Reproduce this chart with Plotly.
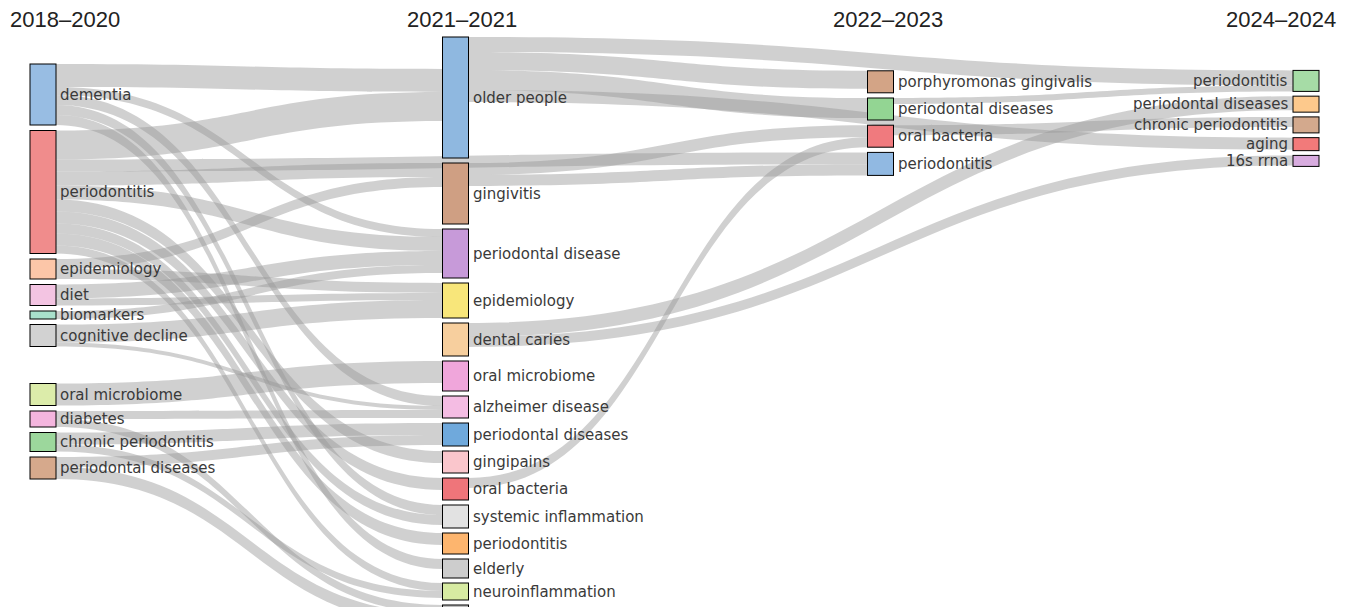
import plotly.graph_objects as go

W, H = 1350, 607

# ---------------- data ----------------
period_titles = ["2018–2020", "2021–2021", "2022–2023", "2024–2024"]

col1_labels = ["dementia", "periodontitis", "epidemiology", "diet", "biomarkers",
               "cognitive decline", "oral microbiome", "diabetes",
               "chronic periodontitis", "periodontal diseases"]
col1_sizes = [61, 123, 20, 21, 8, 22, 22, 16, 19, 22]

col2_labels = ["older people", "gingivitis", "periodontal disease", "epidemiology",
               "dental caries", "oral microbiome", "alzheimer disease",
               "periodontal diseases", "gingipains", "oral bacteria",
               "systemic inflammation", "periodontitis", "elderly",
               "neuroinflammation", ""]
col2_sizes = [121, 61, 49, 35, 33, 30, 22, 23, 22, 22, 23, 21, 19, 17, 20]

col3_labels = ["porphyromonas gingivalis", "periodontal diseases", "oral bacteria",
               "periodontitis"]
col3_sizes = [22, 22, 22, 23]

col4_labels = ["periodontitis", "periodontal diseases", "chronic periodontitis",
               "aging", "16s rrna"]
col4_sizes = [21, 16, 16, 13, 11]

# links: (column, label) -> (column, label), width
link_source = [
    (1, "dementia"), (1, "dementia"), (1, "dementia"), (1, "dementia"), (1, "dementia"),
    (1, "periodontitis"), (1, "periodontitis"), (1, "periodontitis"), (1, "periodontitis"),
    (1, "periodontitis"), (1, "periodontitis"), (1, "periodontitis"), (1, "periodontitis"),
    (1, "periodontitis"),
    (1, "epidemiology"), (1, "epidemiology"),
    (1, "diet"), (1, "diet"),
    (1, "biomarkers"),
    (1, "cognitive decline"), (1, "cognitive decline"),
    (1, "oral microbiome"),
    (1, "diabetes"), (1, "diabetes"),
    (1, "chronic periodontitis"), (1, "chronic periodontitis"),
    (1, "periodontal diseases"), (1, "periodontal diseases"),
    (2, "older people"), (2, "older people"), (2, "older people"), (2, "older people"),
    (2, "gingivitis"), (2, "gingivitis"),
    (2, "dental caries"), (2, "dental caries"),
    (2, "oral bacteria"),
    (3, "periodontal diseases"),
    (3, "oral bacteria"),
]
link_target = [
    (2, "older people"), (2, "periodontal disease"), (2, "alzheimer disease"),
    (2, "systemic inflammation"), (2, "elderly"),
    (2, "older people"), (3, "periodontitis"), (2, "gingivitis"), (2, "periodontal disease"),
    (2, "gingipains"), (2, "oral bacteria"), (2, "systemic inflammation"),
    (2, "periodontitis"), (2, "neuroinflammation"),
    (2, "gingivitis"), (2, "epidemiology"),
    (2, "periodontal disease"), (2, "epidemiology"),
    (2, "periodontal disease"),
    (2, "epidemiology"), (2, "alzheimer disease"),
    (2, "oral microbiome"),
    (2, "alzheimer disease"), (2, ""),
    (2, "periodontal diseases"), (2, "neuroinflammation"),
    (2, "periodontal diseases"), (2, ""),
    (4, "periodontitis"), (3, "porphyromonas gingivalis"), (3, "periodontal diseases"), (4, "aging"),
    (3, "oral bacteria"), (3, "periodontitis"),
    (4, "periodontal diseases"), (4, "16s rrna"),
    (3, "oral bacteria"),
    (4, "periodontitis"),
    (4, "chronic periodontitis"),
]
link_value = [
    23, 8, 10, 10, 10,
    29, 12, 14, 14, 12, 12, 10, 12, 8,
    10, 10,
    14, 7,
    8,
    18, 4,
    22,
    8, 8,
    12, 7,
    10, 12,
    15, 18, 20, 12,
    12, 11,
    14, 10,
    10,
    6,
    10,
]

# ---------------- styles / layout ----------------
col1_colors = ["#98bde3", "#f08c8c", "#fcc6a8", "#f3c4e2", "#a9e0cc", "#d2d2d2",
               "#dcecaa", "#f4b5de", "#9cd79c", "#d6a98c"]
col2_colors = ["#8fb8e0", "#cf9f83", "#c79ad9", "#f8e67a", "#f7cf9e", "#f0a6db",
               "#f4bce3", "#6fa9dc", "#fac6cc", "#ef757a", "#e2e2e2", "#fdb56e",
               "#cdcdcd", "#d7eba2", "#bdbdbd"]
col3_colors = ["#d3a486", "#93d593", "#f07a7e", "#91b9e2"]
col4_colors = ["#a6dca6", "#fdc98c", "#d3a98d", "#f27a7a", "#d8acdf"]

col_center_x = [43, 455.5, 880.5, 1306]
col_top = [64, 37, 70.8, 70.4]
col_gap = [5.5, 5.0, 5.2, 4.75]
extra_gap_before = {(1, "oral microbiome"): 31.5}
top_space = {(2, "older people"): 32}   # empty space above incoming flows

THICK = 26
LINK_COLOR = "rgba(150,150,150,0.45)"
CLEAR = "rgba(0,0,0,0)"
LABEL_FONT = dict(family="DejaVu Sans", size=15, color="#3a3a3a")

columns = [
    (col1_labels, col1_sizes, col1_colors),
    (col2_labels, col2_sizes, col2_colors),
    (col3_labels, col3_sizes, col3_colors),
    (col4_labels, col4_sizes, col4_colors),
]

ids, labels, colors, xs, ys, sizes, centers = [], [], [], [], [], [], []
for ci, (labs, szs, cols) in enumerate(columns):
    y = col_top[ci]
    for k, (lab, s, c) in enumerate(zip(labs, szs, cols)):
        key = (ci + 1, lab)
        if k > 0:
            y += col_gap[ci]
        y += extra_gap_before.get(key, 0)
        ids.append(key)
        labels.append(lab)
        colors.append(c)
        xs.append(col_center_x[ci] / W)
        ys.append((y + s / 2) / H)
        centers.append(y + s / 2)
        sizes.append(s)
        y += s

n_vis = len(ids)
index = {k: i for i, k in enumerate(ids)}
line_colors = ["#555555"] * n_vis
line_widths = [1] * n_vis

# helper (invisible) nodes placed far outside the drawing area
DST, DSB, DT = n_vis, n_vis + 1, n_vis + 2
colors += [CLEAR] * 3
line_colors += [CLEAR] * 3
line_widths += [0] * 3
xs += [0.02, 0.02, 0.98]
ys += [-3.0, 4.0, 4.0]
n_all = n_vis + 3

src, tgt, val, lcol = [], [], [], []
for s, t, v in zip(link_source, link_target, link_value):
    src.append(index[s]); tgt.append(index[t]); val.append(v); lcol.append(LINK_COLOR)

vin = [0] * n_vis
vout = [0] * n_vis
for s, t, v in zip(src, tgt, val):
    vout[s] += v
    vin[t] += v


def add_clear(s, t, v):
    if v > 1e-9:
        src.append(s); tgt.append(t); val.append(v); lcol.append(CLEAR)


for key, p in top_space.items():
    add_clear(DST, index[key], p)
    vin[index[key]] += p

for i, key in enumerate(ids):
    s = sizes[i]
    col = key[0]
    if col == 4:
        add_clear(DSB, i, s - vin[i])
    elif col != 1 and vin[i] == 0:
        add_clear(DSB, i, s)
    else:
        add_clear(i, DT, s - vout[i])


# replicate the layer assignment to fix the vertical scale at 1 px per unit
def column_sums(src, tgt, val):
    outs = [[] for _ in range(n_all)]
    vi = [0] * n_all
    vo = [0] * n_all
    for s, t, v in zip(src, tgt, val):
        outs[s].append(t)
        vo[s] += v
        vi[t] += v
    depth = [0] * n_all
    cur = list(range(n_all))
    x = 0
    while cur:
        nxt = []
        for nd in cur:
            depth[nd] = x
            for t in outs[nd]:
                if t not in nxt:
                    nxt.append(t)
        cur = nxt
        x += 1
    layer = [depth[i] if outs[i] else x - 1 for i in range(n_all)]
    sums = {}
    for i in range(n_all):
        sums[layer[i]] = sums.get(layer[i], 0) + max(vi[i], vo[i])
    return layer, sums


layer, sums = column_sums(src, tgt, val)
extra = H - max(sums[layer[DSB]], sums[layer[DT]])
add_clear(DSB, DT, max(extra, 0))

fig = go.Figure(go.Sankey(
    arrangement="fixed",
    domain=dict(x=[0, 1], y=[0, 1]),
    node=dict(
        label=[""] * n_all, color=colors, x=xs, y=ys,
        pad=0, thickness=THICK,
        line=dict(color=line_colors, width=line_widths),
        hoverinfo="none",
    ),
    link=dict(source=src, target=tgt, value=val, color=lcol, hoverinfo="none"),
))

annotations = []
# node labels: right of the node, except for the last period (left of the node)
for i, key in enumerate(ids):
    if not labels[i]:
        continue
    ci = key[0] - 1
    if ci == 3:
        px, anchor = col_center_x[ci] - THICK / 2 - 3, "right"
    else:
        px, anchor = col_center_x[ci] + THICK / 2 + 2, "left"
    annotations.append(dict(
        text=labels[i], x=px / W, y=1 - centers[i] / H, xref="paper", yref="paper",
        xanchor=anchor, yanchor="middle", showarrow=False, font=LABEL_FONT,
    ))

title_pos = [(8, "left"), (462, "center"), (888, "center"), (1338, "right")]
for t, (px, anchor) in zip(period_titles, title_pos):
    annotations.append(dict(
        text=t, x=px / W, y=1 - 19 / H, xref="paper", yref="paper",
        xanchor=anchor, yanchor="middle", showarrow=False,
        font=dict(family="Liberation Sans, Arial", size=22, color="#222222"),
    ))

fig.update_layout(
    width=W, height=H,
    margin=dict(l=0, r=0, t=0, b=0),
    paper_bgcolor="white", plot_bgcolor="white",
    annotations=annotations,
)

fig.write_html("out.html", config={"displayModeBar": False})
